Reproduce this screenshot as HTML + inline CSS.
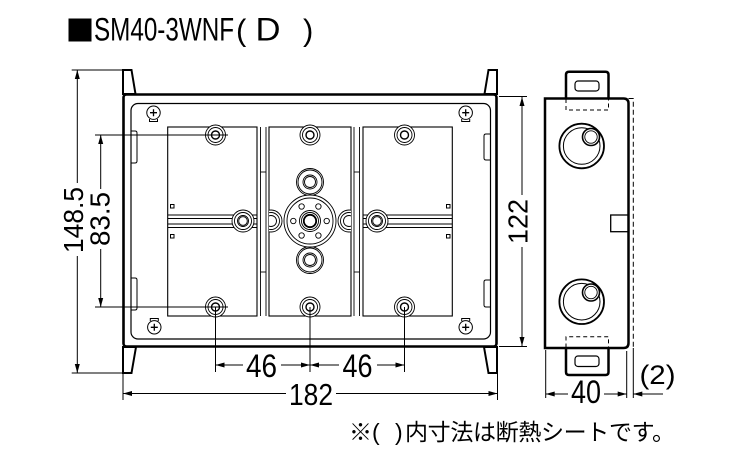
<!DOCTYPE html>
<html><head><meta charset="utf-8"><style>
html,body{margin:0;padding:0;background:#fff;}
svg{display:block;}
text{font-family:"Liberation Sans",sans-serif;fill:#000;}
.jp{font-family:"Liberation Sans","Noto Sans CJK JP",sans-serif;}
</style></head><body>
<svg width="750" height="450" viewBox="0 0 750 450" xmlns="http://www.w3.org/2000/svg">
<defs>
<clipPath id="cr"><rect x="269" y="200" width="20" height="45"/></clipPath>
<clipPath id="cl"><rect x="331" y="200" width="20" height="45"/></clipPath>
</defs>
<rect width="750" height="450" fill="#fff"/>

<!-- Title -->
<rect x="68.5" y="18.5" width="23" height="23" fill="#000"/>
<text x="94" y="40.5" font-size="32" textLength="140" lengthAdjust="spacingAndGlyphs">SM40-3WNF</text>
<text x="236" y="40.5" font-size="31">(</text>
<text x="255.5" y="40.5" font-size="32" textLength="25" lengthAdjust="spacingAndGlyphs">D</text>
<text x="303" y="40.5" font-size="31">)</text>

<g fill="none" stroke="#000">
<!-- Front view tabs -->
<polygon points="123,70 131.5,70 135.5,94 123,94" fill="#fff" stroke-width="2"/>
<polygon points="123,347 136,347 131.5,373 123,373" fill="#fff" stroke-width="2"/>
<polygon points="497,70 488.5,70 484.5,94 497,94" fill="#fff" stroke-width="2"/>
<polygon points="497,347 484,347 488.5,373 497,373" fill="#fff" stroke-width="2"/>
<!-- outer frame -->
<rect x="123.5" y="94.5" width="373" height="252" rx="3" fill="#fff" stroke-width="2.6"/>
<!-- inner rect -->
<rect x="131" y="103.5" width="359.5" height="235.5" rx="7" stroke-width="1.2"/>
<!-- inner side tabs -->
<path d="M131,131 H135 Q137,131 137,133 V161 Q137,163 135,163 H131" stroke-width="1"/>
<path d="M131,278 H135 Q137,278 137,280 V308 Q137,310 135,310 H131" stroke-width="1"/>
<path d="M490,134 H486 Q484,134 484,136 V158 Q484,160 486,160 H490" stroke-width="1"/>
<path d="M490,280 H486 Q484,280 484,282 V305 Q484,307 486,307 H490" stroke-width="1"/>

<!-- compartments -->
<rect x="167.7" y="127" width="89.3" height="189" stroke-width="1.1"/>
<rect x="269" y="127" width="82" height="189" stroke-width="1.1"/>
<rect x="363" y="127" width="89.3" height="189" stroke-width="1.1"/>
<!-- dividers -->
<g stroke-width="0.9">
<line x1="260.5" y1="127" x2="260.5" y2="316"/>
<line x1="266" y1="127" x2="266" y2="316"/>
<line x1="354" y1="127" x2="354" y2="316"/>
<line x1="359.5" y1="127" x2="359.5" y2="316"/>
<line x1="260.5" y1="172" x2="266" y2="172"/>
<line x1="260.5" y1="272" x2="266" y2="272"/>
<line x1="354" y1="172" x2="359.5" y2="172"/>
<line x1="354" y1="272" x2="359.5" y2="272"/>
</g>
<!-- rails -->
<g stroke-width="0.9">
<line x1="167.7" y1="215" x2="257" y2="215"/><line x1="167.7" y1="218.5" x2="257" y2="218.5"/>
<line x1="167.7" y1="224" x2="257" y2="224"/><line x1="167.7" y1="227.5" x2="257" y2="227.5"/>
<line x1="363" y1="215" x2="452.3" y2="215"/><line x1="363" y1="218.5" x2="452.3" y2="218.5"/>
<line x1="363" y1="224" x2="452.3" y2="224"/><line x1="363" y1="227.5" x2="452.3" y2="227.5"/>
</g>
<!-- small squares -->
<rect x="170.5" y="204.5" width="3.5" height="3.5" stroke-width="1"/>
<rect x="170.5" y="234.5" width="3.5" height="3.5" stroke-width="1"/>
<rect x="446.5" y="204.5" width="3.5" height="3.5" stroke-width="1"/>
<rect x="446.5" y="234.5" width="3.5" height="3.5" stroke-width="1"/>

<!-- hole bosses -->
<g stroke-width="0.9">
<circle cx="215.5" cy="135" r="10" fill="#fff"/><circle cx="215.5" cy="135" r="7.5"/><circle cx="215.5" cy="135" r="4" stroke-width="1.4"/>
<circle cx="310" cy="135" r="10" fill="#fff"/><circle cx="310" cy="135" r="7.5"/><circle cx="310" cy="135" r="4" stroke-width="1.4"/>
<circle cx="404.5" cy="135" r="10" fill="#fff"/><circle cx="404.5" cy="135" r="7.5"/><circle cx="404.5" cy="135" r="4" stroke-width="1.4"/>
<circle cx="215.5" cy="307" r="10" fill="#fff"/><circle cx="215.5" cy="307" r="7.5"/><circle cx="215.5" cy="307" r="4" stroke-width="1.4"/>
<circle cx="310" cy="307" r="10" fill="#fff"/><circle cx="310" cy="307" r="7.5"/><circle cx="310" cy="307" r="4" stroke-width="1.4"/>
<circle cx="404.5" cy="307" r="10" fill="#fff"/><circle cx="404.5" cy="307" r="7.5"/><circle cx="404.5" cy="307" r="4" stroke-width="1.4"/>
</g>

<!-- side bosses -->
<g stroke-width="0.9">
<circle cx="243" cy="221" r="11" fill="#fff"/><circle cx="243" cy="221" r="8.5"/><circle cx="243" cy="221" r="5.5"/><circle cx="243" cy="221" r="4.3"/>
<circle cx="377" cy="221" r="11" fill="#fff"/><circle cx="377" cy="221" r="8.5"/><circle cx="377" cy="221" r="5.5"/><circle cx="377" cy="221" r="4.3"/>
<g clip-path="url(#cr)"><circle cx="271" cy="221" r="11" fill="#fff"/><circle cx="271" cy="221" r="8.5"/><circle cx="271" cy="221" r="5.5"/></g>
<g clip-path="url(#cl)"><circle cx="349" cy="221" r="11" fill="#fff"/><circle cx="349" cy="221" r="8.5"/><circle cx="349" cy="221" r="5.5"/></g>
<!-- top/bottom bosses -->
<circle cx="310" cy="182" r="13.5" fill="#fff"/><circle cx="310" cy="182" r="12"/><circle cx="310" cy="182" r="7"/><circle cx="310" cy="182" r="5.5"/>
<circle cx="310" cy="260" r="13.5" fill="#fff"/><circle cx="310" cy="260" r="12"/><circle cx="310" cy="260" r="7"/><circle cx="310" cy="260" r="5.5"/>
<!-- center -->
<circle cx="310" cy="221" r="26" fill="#fff"/><circle cx="310" cy="221" r="23"/>
<circle cx="326.7" cy="221" r="2.7"/><circle cx="293.3" cy="221" r="2.7"/>
<circle cx="318.4" cy="206.5" r="2.7"/><circle cx="301.6" cy="206.5" r="2.7"/>
<circle cx="318.4" cy="235.5" r="2.7"/><circle cx="301.6" cy="235.5" r="2.7"/>
<circle cx="310" cy="221" r="10.5"/><circle cx="310" cy="221" r="8.5"/><circle cx="310" cy="221" r="6.2" stroke-width="1.8"/>
</g>

<!-- screws -->
<g stroke-width="1">
<circle cx="153.5" cy="112.7" r="6.7" fill="#fff"/><path d="M150,112.7 H157 M153.5,109.2 V116.2" stroke-width="1.3"/><path d="M149.5,119 V121.5 H157.5 V119"/>
<circle cx="465.7" cy="112.7" r="6.7" fill="#fff"/><path d="M462.2,112.7 H469.2 M465.7,109.2 V116.2" stroke-width="1.3"/><path d="M461.7,119 V121.5 H469.7 V119"/>
<circle cx="154.3" cy="327.3" r="6.7" fill="#fff"/><path d="M150.8,327.3 H157.8 M154.3,323.8 V330.8" stroke-width="1.3"/><path d="M150.3,321 V318.5 H158.3 V321"/>
<circle cx="465.7" cy="327.3" r="6.7" fill="#fff"/><path d="M462.2,327.3 H469.2 M465.7,323.8 V330.8" stroke-width="1.3"/><path d="M461.7,321 V318.5 H469.7 V321"/>
</g>

<!-- Dimensions front -->
<g stroke-width="1">
<!-- 148.5 -->
<line x1="71.7" y1="70" x2="122" y2="70"/><line x1="71.7" y1="373" x2="122" y2="373"/>
<line x1="77.3" y1="70" x2="77.3" y2="183"/><line x1="77.3" y1="256" x2="77.3" y2="373"/>
<!-- 83.5 -->
<line x1="95" y1="135" x2="228" y2="135"/><line x1="95" y1="307" x2="228" y2="307"/>
<line x1="100.7" y1="135" x2="100.7" y2="189"/><line x1="100.7" y1="249" x2="100.7" y2="307"/>
<!-- 122 -->
<line x1="499" y1="96.5" x2="527" y2="96.5"/><line x1="499" y1="346.5" x2="527" y2="346.5"/>
<line x1="522" y1="97" x2="522" y2="195"/><line x1="522" y1="247" x2="522" y2="346"/>
<!-- 46 46 -->
<line x1="215.5" y1="307" x2="215.5" y2="372"/><line x1="310" y1="307" x2="310" y2="372"/><line x1="404.5" y1="307" x2="404.5" y2="372"/>
<line x1="215.5" y1="365" x2="243" y2="365"/><line x1="281" y1="365" x2="310" y2="365"/>
<line x1="310" y1="365" x2="339" y2="365"/><line x1="377" y1="365" x2="404.5" y2="365"/>
<!-- 182 -->
<line x1="123" y1="374" x2="123" y2="400"/><line x1="497.5" y1="374" x2="497.5" y2="400"/>
<line x1="123" y1="393.5" x2="286" y2="393.5"/><line x1="336" y1="393.5" x2="497.5" y2="393.5"/>
</g>
</g>

<!-- arrowheads -->
<g fill="#000">
<polygon points="77.3,70 74.8,79 79.8,79"/><polygon points="77.3,373 74.8,364 79.8,364"/>
<polygon points="100.7,135 98.2,144 103.2,144"/><polygon points="100.7,307 98.2,298 103.2,298"/>
<polygon points="522,97 519.5,106 524.5,106"/><polygon points="522,346 519.5,337 524.5,337"/>
<polygon points="215.5,365 224.5,362.5 224.5,367.5"/><polygon points="310,365 301,362.5 301,367.5"/>
<polygon points="310,365 319,362.5 319,367.5"/><polygon points="404.5,365 395.5,362.5 395.5,367.5"/>
<polygon points="123,393.5 132,391 132,396"/><polygon points="497.5,393.5 488.5,391 488.5,396"/>
<polygon points="545.7,394 554.7,391.5 554.7,396.5"/><polygon points="626.7,394 617.7,391.5 617.7,396.5"/>
<polygon points="633.3,394 642.3,391.5 642.3,396.5"/>
</g>

<!-- dimension texts -->
<text transform="translate(83,253) rotate(-90)" font-size="28" textLength="66" lengthAdjust="spacingAndGlyphs">148.5</text>
<text transform="translate(109.5,246) rotate(-90)" font-size="28" textLength="54" lengthAdjust="spacingAndGlyphs">83.5</text>
<text transform="translate(527.5,244) rotate(-90)" font-size="28" textLength="45" lengthAdjust="spacingAndGlyphs">122</text>
<text x="246" y="377" font-size="32" textLength="31" lengthAdjust="spacingAndGlyphs">46</text>
<text x="342.5" y="377" font-size="32" textLength="30" lengthAdjust="spacingAndGlyphs">46</text>
<text x="289" y="405" font-size="31" textLength="44" lengthAdjust="spacingAndGlyphs">182</text>
<text x="571" y="403" font-size="32" textLength="30" lengthAdjust="spacingAndGlyphs">40</text>
<text x="639.5" y="384" font-size="27" textLength="36" lengthAdjust="spacingAndGlyphs">(2)</text>

<!-- Side view -->
<g fill="none" stroke="#000">
<path d="M566,98.5 V74.7 Q566,71.7 569,71.7 H605.5 Q608.5,71.7 608.5,74.7 V98.5" fill="#fff" stroke-width="2.5"/>
<path d="M566,348 V372 Q566,375 569,375 H605.5 Q608.5,375 608.5,372 V348" fill="#fff" stroke-width="2.5"/>
<path d="M545,98.5 H623.5 Q628.5,98.5 628.5,103.5 V343 Q628.5,348 623.5,348 H545 Z" fill="#fff" stroke-width="2.5"/>
<rect x="575" y="81" width="24" height="10" rx="3" stroke-width="1.2"/>
<rect x="575" y="356" width="24" height="10.5" rx="3" stroke-width="1.2"/>
<path d="M566,99 V110 H608.5 V99" stroke-width="1" stroke-dasharray="4 3"/>
<path d="M566,347.5 V336.7 H608.5 V347.5" stroke-width="1" stroke-dasharray="4 3"/>
<path d="M628.5,98.5 H633.3 V348" stroke-width="1" stroke-dasharray="5 3"/>
<rect x="610.7" y="215" width="17.8" height="16.7" stroke-width="1.3"/>
<!-- knockouts -->
<circle cx="581.7" cy="146" r="18.3" stroke-width="1"/>
<circle cx="591" cy="137" r="8.5" fill="#fff" stroke-width="1.6"/>
<circle cx="591" cy="137" r="6.2" stroke-width="0.9"/>
<circle cx="581.7" cy="146" r="22.3" stroke-width="1.8"/>
<circle cx="581.7" cy="301.7" r="18.3" stroke-width="1"/>
<circle cx="591" cy="292.5" r="8.5" fill="#fff" stroke-width="1.6"/>
<circle cx="591" cy="292.5" r="6.2" stroke-width="0.9"/>
<circle cx="581.7" cy="301.7" r="22.3" stroke-width="1.8"/>
<!-- side dims -->
<g stroke-width="1">
<line x1="545.7" y1="350" x2="545.7" y2="398"/>
<line x1="626.7" y1="351" x2="626.7" y2="398"/>
<line x1="633.3" y1="348" x2="633.3" y2="398"/>
<line x1="545.7" y1="394" x2="568" y2="394"/><line x1="604" y1="394" x2="626.7" y2="394"/>
<line x1="633.3" y1="394" x2="663" y2="394"/>
</g>
</g>

<!-- footer -->
<text class="jp" x="349" y="440" font-size="23">※</text>
<text class="jp" x="372" y="440" font-size="23">(</text>
<text class="jp" x="395" y="440" font-size="23">)</text>
<text class="jp" x="405" y="440" font-size="23" textLength="270" lengthAdjust="spacing">内寸法は断熱シートです。</text>
</svg>
</body></html>
